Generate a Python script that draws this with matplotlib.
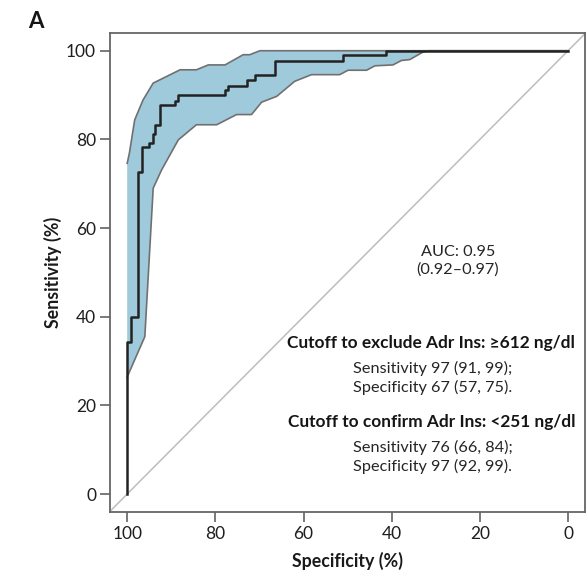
import numpy as np
import matplotlib
matplotlib.use("Agg")
import matplotlib.pyplot as plt

plt.rcParams['font.family'] = ['Lato', 'DejaVu Sans']

# ROC curve corners (specificity, sensitivity) -- drawn as post steps
roc_spec = [100, 100, 99.2, 97.5, 96.6, 95.0, 94.2, 93.6, 92.6, 89.1, 88.4,
            77.8, 77.1, 72.9, 71.0, 66.5, 51.1, 41.3, 0]
roc_sens = [0, 34.4, 40.0, 72.7, 78.3, 79.2, 81.2, 83.3, 87.8, 88.7, 90.1,
            91.2, 92.1, 93.3, 94.6, 97.6, 99.1, 100, 100]

# confidence band edges
upper_spec = [100, 99.5, 98.3, 96.4, 94.1, 88.0, 84.3, 81.6, 77.8, 73.7, 72.2, 69.9, 0]
upper_sens = [74.6, 76.9, 84.4, 88.9, 92.7, 95.7, 95.7, 96.8, 96.8, 99.1, 99.1, 100, 100]
lower_spec = [100, 96.0, 94.1, 92.2, 88.4, 84.3, 79.7, 75.2, 71.8, 69.5, 66.1, 62.0,
              58.2, 51.8, 49.9, 45.7, 43.8, 39.7, 37.8, 35.9, 32.9, 31.5, 0]
lower_sens = [26.4, 35.5, 69.0, 73.1, 79.9, 83.3, 83.3, 85.6, 85.6, 88.4, 89.7, 93.1,
              94.6, 94.6, 95.6, 95.6, 96.6, 96.8, 97.8, 98.0, 99.7, 100, 100]

ticks = [100, 80, 60, 40, 20, 0]

fig = plt.figure(figsize=(5.86, 5.73), dpi=100)
ax = fig.add_axes([110/586, 1 - 512/573, 475/586, 479/573])

# band
poly_x = upper_spec + lower_spec[::-1]
poly_y = upper_sens + lower_sens[::-1]
ax.fill(poly_x, poly_y, facecolor='#9fcadb', edgecolor='none', zorder=1)
ax.plot(upper_spec, upper_sens, color='#707070', lw=1.2, zorder=2)
ax.plot(lower_spec, lower_sens, color='#707070', lw=1.2, zorder=2)

# chance line
ax.axline((100, 0), (0, 100), color='#bdbdbd', lw=1.1, zorder=0)

ax.step(roc_spec, roc_sens, where='post', color='#222222', lw=1.8, zorder=3)

ax.set_xlim(103.9, -3.85)
ax.set_ylim(-4.06, 104)
ax.set_xticks(ticks)
ax.set_yticks(ticks)
ax.tick_params(direction='out', length=7, width=1.1, color='#555555',
               labelsize=12.5, labelcolor='#1e1e1e', pad=3)
for s in ax.spines.values():
    s.set_color('#666666')
    s.set_linewidth(1.3)

ax.set_xlabel('Specificity (%)', fontsize=12.8, fontweight='bold', color='#1a1a1a', labelpad=7)
ax.set_ylabel('Sensitivity (%)', fontsize=12.8, fontweight='bold', color='#1a1a1a', labelpad=3)

tc = '#252525'
ax.text(25.0, 52.5, 'AUC: 0.95\n(0.92–0.97)', ha='center', va='center',
        fontsize=11.7, color=tc, linespacing=1.3)
ax.text(31.0, 34.1, 'Cutoff to exclude Adr Ins: ≥612 ng/dl', ha='center', va='center',
        fontsize=12.4, fontweight='bold', color='#151515')
ax.text(30.7, 26.1, 'Sensitivity 97 (91, 99);\nSpecificity 67 (57, 75).', ha='center',
        va='center', fontsize=11.7, color=tc, linespacing=1.3)
ax.text(31.0, 16.3, 'Cutoff to confirm Adr Ins: <251 ng/dl', ha='center', va='center',
        fontsize=12.4, fontweight='bold', color='#151515')
ax.text(30.7, 8.3, 'Sensitivity 76 (66, 84);\nSpecificity 97 (92, 99).', ha='center',
        va='center', fontsize=11.7, color=tc, linespacing=1.3)

fig.text(36/586, 1 - 21/573, 'A', ha='center', va='center', fontsize=16,
         fontweight='bold', color='#151515')

fig.savefig('out.png', dpi=100)
